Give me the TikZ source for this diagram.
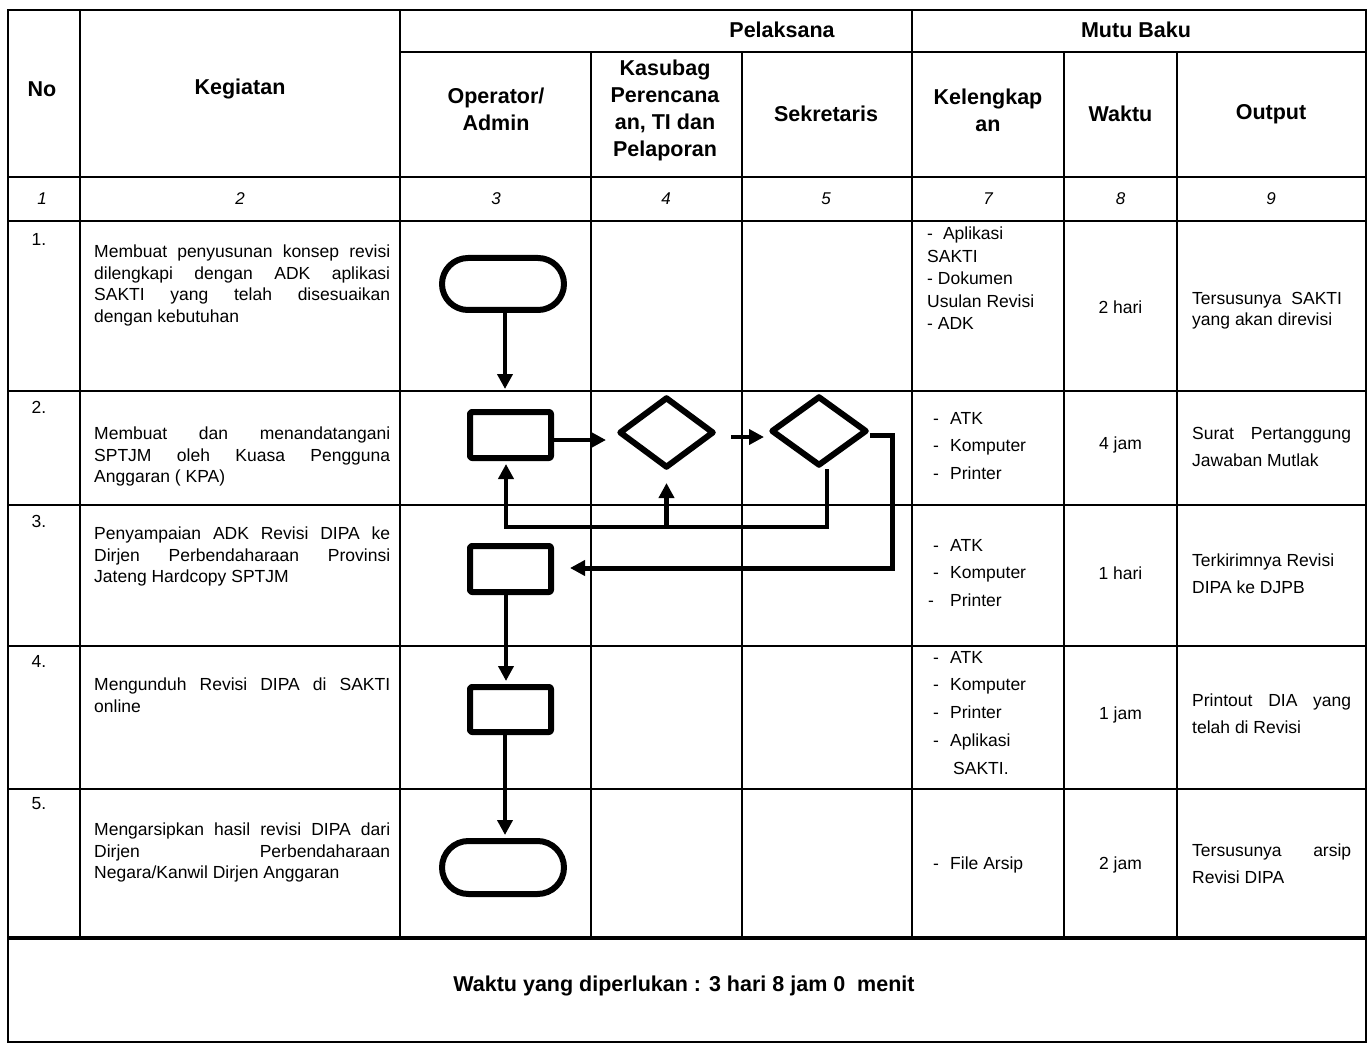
\documentclass[tikz,border=0pt]{standalone}
\usepackage{fontspec}
\setmainfont{Liberation Sans}
\usetikzlibrary{arrows.meta,shapes.geometric}
\newcommand{\kdash}{\makebox[17pt][l]{-}}
\begin{document}
\begin{tikzpicture}[x=1pt,y=-1pt,
  grid/.style={line width=2pt},
  hdr/.style={font=\fontsize{21.5}{27}\selectfont\bfseries, align=center, inner sep=0pt},
  numtxt/.style={font=\fontsize{17}{20}\selectfont\itshape, inner sep=0pt},
  rowno/.style={font=\fontsize{17.5}{21}\selectfont, inner sep=0pt},
  keg/.style={anchor=north west, text width=296pt, align=justify, inner sep=0pt, font=\fontsize{17.5}{21.5}\selectfont},
  outp/.style={anchor=north west, text width=159pt, align=justify, inner sep=0pt, font=\fontsize{17.5}{27}\selectfont},
  outpone/.style={outp, font=\fontsize{17.5}{21.5}\selectfont},
  kel/.style={align=left, inner sep=0pt, font=\fontsize{17.5}{27.7}\selectfont},
  kelone/.style={kel, font=\fontsize{17.5}{22.5}\selectfont},
  wkt/.style={inner sep=0pt, font=\fontsize{17.5}{21}\selectfont},
  flow/.style={draw, line width=6pt, inner sep=0pt, line join=round},
  term/.style={flow, rectangle, rounded corners=26pt, minimum width=122pt, minimum height=52pt},
  proc/.style={flow, rectangle, rounded corners=2pt, minimum width=81pt, minimum height=46pt},
  dec/.style={flow, diamond, minimum width=95pt, minimum height=71pt},
  conn/.style={line width=4.5pt, -{Triangle[length=15pt,width=15pt]}}
]
\useasboundingbox (0,0) rectangle (1372,1048);
\fill[white] (0,0) rectangle (1372,1048);

% ---- table grid ----
\draw[line width=2.5pt] (8,10) rectangle (1366,1042);
\foreach \x in {80,400,912} \draw[grid] (\x,10) -- (\x,938);
\foreach \x in {591,742,1064,1177} \draw[grid] (\x,52) -- (\x,938);
\draw[grid] (400,52) -- (1366,52);
\foreach \y in {177,221,391,505,646,789} \draw[grid] (8,\y) -- (1366,\y);
\draw[line width=3.5pt] (8,938) -- (1366,938);

% ---- headers ----
\node[hdr] (hNo) at (42,89) {No};
\node[hdr] (hKeg) at (240,89) {Kegiatan};
\node[hdr] (hPel) at (782,30) {Pelaksana};
\node[hdr] (hMutu) at (1136,30) {Mutu Baku};
\node[hdr] (hOp) at (496,109) {Operator/\\Admin};
\node[hdr] (hKas) at (665,110) {Kasubag\\Perencana\\an, TI dan\\Pelaporan};
\node[hdr] (hSek) at (826,114) {Sekretaris};
\node[hdr] (hKel) at (988,110) {Kelengkap\\an};
\node[hdr] (hWkt) at (1120.5,114) {Waktu};
\node[hdr] (hOut) at (1271,114) {Output};

% ---- column numbers ----
\node[numtxt] (n1) at (42,199) {1};
\node[numtxt] (n2) at (240,199) {2};
\node[numtxt] (n3) at (496,199) {3};
\node[numtxt] (n4) at (666,199) {4};
\node[numtxt] (n5) at (826,199) {5};
\node[numtxt] (n7) at (988,199) {7};
\node[numtxt] (n8) at (1120.5,199) {8};
\node[numtxt] (n9) at (1271,199) {9};

% ---- row numbers ----
\node[rowno] (r1) at (39,239) {1.};
\node[rowno] (r2) at (39,407) {2.};
\node[rowno] (r3) at (39,521) {3.};
\node[rowno] (r4) at (39,661) {4.};
\node[rowno] (r5) at (39,804) {5.};

% ---- Kegiatan ----
\node[keg] (k1) at (94,244.7) {Membuat penyusunan konsep revisi\linebreak dilengkapi dengan ADK aplikasi\linebreak SAKTI yang telah disesuaikan\linebreak dengan kebutuhan};
\node[keg] (k2) at (94,426.7) {Membuat dan menandatangani\linebreak SPTJM oleh Kuasa Pengguna\linebreak Anggaran ( KPA)};
\node[keg] (k3) at (94,526.7) {Penyampaian ADK Revisi DIPA ke\linebreak Dirjen Perbendaharaan Provinsi\linebreak Jateng Hardcopy SPTJM};
\node[keg] (k4) at (94,677.7) {Mengunduh Revisi DIPA di SAKTI\linebreak online};
\node[keg] (k5) at (94,822.7) {Mengarsipkan hasil revisi DIPA dari\linebreak Dirjen\hfill Perbendaharaan\\Negara/Kanwil Dirjen Anggaran};

% ---- Kelengkapan ----
\node[kelone, anchor=north west] (l1) at (927,227) {-\hspace{10pt}Aplikasi\\SAKTI\\- Dokumen\\Usulan Revisi\\- ADK};
\node[kel, anchor=west] (l2) at (933,446) {\kdash ATK\\\kdash Komputer\\\kdash Printer};
\node[kel, anchor=west] (l3) at (933,573) {\kdash ATK\\\kdash Komputer\\\makebox[17pt][l]{\hspace{-5pt}-}Printer};
\node[kel, anchor=north west] (l4) at (933,651) {\kdash ATK\\\kdash Komputer\\\kdash Printer\\\kdash Aplikasi\\\hspace{20pt}SAKTI.};
\node[kel, anchor=west] (l5) at (933,865) {\kdash File Arsip};

% ---- Waktu ----
\node[wkt] (w1) at (1120.5,307) {2 hari};
\node[wkt] (w2) at (1120.5,445) {4 jam};
\node[wkt] (w3) at (1120.5,573) {1 hari};
\node[wkt] (w4) at (1120.5,715) {1 jam};
\node[wkt] (w5) at (1120.5,865) {2 jam};

% ---- Output ----
\node[outpone] (o1) at (1192,291.7) {Tersusunya\ \ SAKTI\\yang akan direvisi};
\node[outp] (o2) at (1192,426.7) {Surat Pertanggung\linebreak Jawaban Mutlak};
\node[outp] (o3) at (1192,553.7) {Terkirimnya Revisi\\DIPA ke DJPB};
\node[outp] (o4) at (1192,693.7) {Printout DIA yang\linebreak telah di Revisi};
\node[outp] (o5) at (1192,843.7) {Tersusunya arsip\linebreak Revisi DIPA};

% ---- footer ----
\node[hdr] (foot) at (684,986) {Waktu yang diperlukan : 3 hari 8 jam 0\ \ menit};

% ---- flowchart shapes ----
\node[term] (start) at (503,284) {};
\node[proc] (box2) at (510.5,435) {};
\node[dec] (d1) at (666.5,432.5) {};
\node[dec, minimum width=96pt, minimum height=70pt] (d2) at (819,431) {};
\node[proc] (box3) at (510.5,569) {};
\node[proc, minimum height=45pt] (box4) at (510.5,709.5) {};
\node[term, minimum height=53pt, rounded corners=26.5pt] (end) at (503,867.5) {};

\coordinate (fbrow) at (700,527);

% ---- connectors ----
\draw[conn, shorten >=20pt] ([xshift=2pt]start.south) -- ([xshift=2pt]start.south |- box2.north);
\draw[conn, shorten >=10pt] ([yshift=-5pt]box2.east) -- ([yshift=-5pt]box2.east -| d1.west);
\draw[conn, shorten <=14pt, shorten >=4pt] ([yshift=-4.5pt]d1.east) -- ([yshift=-4.5pt]d1.east -| d2.west);
\draw[line width=5pt, -{Triangle[length=15pt,width=15pt]}, line join=miter] ([yshift=-4pt]d2.east) -- ++(22,0) |- ([xshift=16pt,yshift=1pt]box3.east);
\draw[conn, shorten >=3pt, line join=miter] ([xshift=8pt]d2.south) -- ([xshift=8pt]d2.south |- fbrow) -| ([xshift=-4.5pt]box2.south);
\draw[conn, shorten >=12pt] (d1.south |- fbrow) -- (d1.south);
\draw[conn, shorten >=3pt] ([xshift=-4.5pt]box3.south) -- ([xshift=-4.5pt]box3.south |- box4.north);
\draw[conn, shorten >=3pt] ([xshift=-5.5pt]box4.south) -- ([xshift=-5.5pt]box4.south |- end.north);
\end{tikzpicture}
\end{document}
